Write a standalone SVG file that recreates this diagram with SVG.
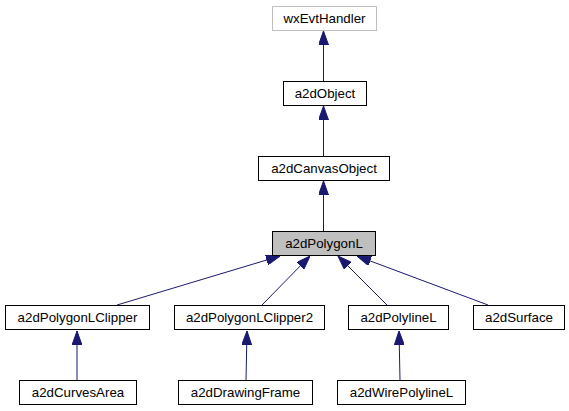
<svg xmlns="http://www.w3.org/2000/svg" width="569" height="411" viewBox="0 0 569 411">
<style>
.n rect{fill:#fff;stroke:#000;stroke-width:1}
.n text{font-family:"Liberation Sans",Arial,sans-serif;font-size:13.3px;text-anchor:middle;fill:#000}
#wxEvtHandler rect{stroke:#bfbfbf}
#a2dPolygonL rect{fill:#bfbfbf}
.e path{fill:none;stroke:#191970;stroke-width:1}
</style>
<defs>
<marker id="ah" markerUnits="userSpaceOnUse" markerWidth="14" markerHeight="10" refX="14" refY="5" orient="auto">
<path d="M0,0 L14,5 L0,10 z" fill="#191970" stroke="#191970" stroke-width="1"/>
</marker>
</defs>
<g class="e" id="edges">
<path d="M323.5,81 L323.5,31" marker-end="url(#ah)"/>
<path d="M323.5,156 L323.5,106" marker-end="url(#ah)"/>
<path d="M323.5,231 L323.5,181" marker-end="url(#ah)"/>
<path d="M117,305 L280,256" marker-end="url(#ah)"/>
<path d="M262,305 L310,256" marker-end="url(#ah)"/>
<path d="M387,305 L338,256" marker-end="url(#ah)"/>
<path d="M488,305 L357,256" marker-end="url(#ah)"/>
<path d="M77,380 L77,331" marker-end="url(#ah)"/>
<path d="M246,380 L247,331" marker-end="url(#ah)"/>
<path d="M400,380 L399,331" marker-end="url(#ah)"/>
</g>
<g class="n" id="wxEvtHandler"><rect x="272.5" y="6.5" width="104" height="24"/><text x="324.5" y="23">wxEvtHandler</text></g>
<g class="n" id="a2dObject"><rect x="283.5" y="81.5" width="83" height="24"/><text x="325" y="98">a2dObject</text></g>
<g class="n" id="a2dCanvasObject"><rect x="258.5" y="156.5" width="131" height="24"/><text x="324" y="173">a2dCanvasObject</text></g>
<g class="n" id="a2dPolygonL"><rect x="272.5" y="231.5" width="103" height="24"/><text x="324" y="248">a2dPolygonL</text></g>
<g class="n" id="a2dPolygonLClipper"><rect x="5.5" y="305.5" width="144" height="24"/><text x="77.5" y="322">a2dPolygonLClipper</text></g>
<g class="n" id="a2dPolygonLClipper2"><rect x="174.5" y="305.5" width="150" height="24"/><text x="249.5" y="322">a2dPolygonLClipper2</text></g>
<g class="n" id="a2dPolylineL"><rect x="348.5" y="305.5" width="100" height="24"/><text x="398.5" y="322">a2dPolylineL</text></g>
<g class="n" id="a2dSurface"><rect x="473.5" y="305.5" width="91" height="24"/><text x="519" y="322">a2dSurface</text></g>
<g class="n" id="a2dCurvesArea"><rect x="19.5" y="380.5" width="117" height="24"/><text x="78" y="397">a2dCurvesArea</text></g>
<g class="n" id="a2dDrawingFrame"><rect x="178.5" y="380.5" width="134" height="24"/><text x="245.5" y="397">a2dDrawingFrame</text></g>
<g class="n" id="a2dWirePolylineL"><rect x="337.5" y="380.5" width="128" height="24"/><text x="401.5" y="397">a2dWirePolylineL</text></g>
</svg>
